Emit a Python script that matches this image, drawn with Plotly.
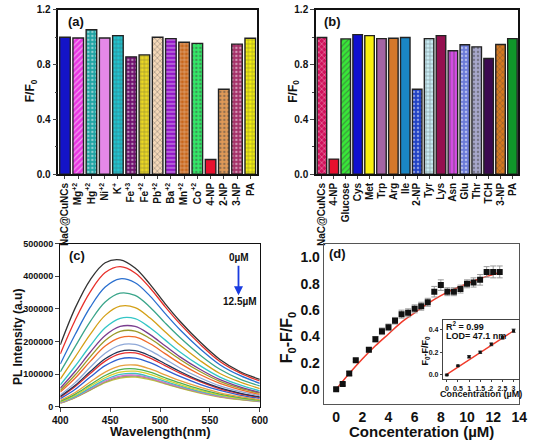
import plotly.graph_objects as go

# ---------------- data ----------------
a_labels = ["NaC@CuNCs", "Mg<sup>+2</sup>", "Hg<sup>+2</sup>", "Ni<sup>+2</sup>", "K<sup>+</sup>",
            "Fe<sup>+3</sup>", "Fe<sup>+2</sup>", "Pb<sup>+2</sup>", "Ba<sup>+2</sup>", "Mn<sup>+2</sup>",
            "Co<sup>+2</sup>", "4-NP", "2-NP", "3-NP", "PA"]
a_values = [1.0, 0.995, 1.055, 0.995, 1.012, 0.857, 0.871, 1.0, 0.99, 0.964, 0.955, 0.107, 0.62, 0.95, 0.993]
a_colors = ["#1414c8", "#e838e0", "#1fa3a3", "#e488e8", "#22c4d0", "#6e0f6e", "#ecd824", "#f4d8b8",
            "#9418c8", "#c8661a", "#34e868", "#e8102e", "#e09a58", "#a43068", "#f4f010"]
a_patterns = ["", "/", ".", "", "+", ".", "+", "x", "-", "+", ".", "", ".", ".", "+"]

b_labels = ["NaC@CuNCs", "4-NP", "Glucose", "Cys", "Met", "Trp", "Arg", "Ile", "2-NP", "Tyr",
            "Lys", "Asn", "Glu", "Thr", "TCH", "3-NP", "PA"]
b_values = [0.998, 0.11, 0.988, 1.019, 1.012, 0.99, 0.993, 0.998, 0.62, 0.99,
            1.012, 0.902, 0.945, 0.93, 0.845, 0.947, 0.99]
b_colors = ["#d0105a", "#e8102e", "#38e838", "#1010d0", "#f8f010", "#a464a4", "#d4782a", "#1a86c4",
            "#2040c4", "#c8ecf4", "#941050", "#d44ce4", "#6a7ad8", "#a8a8cc", "#3c0a50", "#d47820", "#10962a"]
b_patterns = ["x", "", "/", "", "", "", "", "", ".", "+", "", "|", ".", ".", "", "x", ""]

wl = [400, 415, 430, 445, 460, 475, 490, 505, 520, 540, 560, 580, 600]
spectra = [
    [190, 303, 389, 441, 450, 425, 375, 316, 262, 199, 145, 108, 84],
    [162, 266, 352, 411, 429, 410, 364, 307, 254, 192, 139, 104, 79],
    [131, 222, 305, 367, 392, 380, 339, 286, 236, 178, 129, 96, 72],
    [107, 185, 261, 321, 348, 341, 305, 257, 212, 159, 115, 85, 64],
    [85, 153, 222, 280, 308, 304, 272, 230, 189, 142, 102, 76, 56],
    [67, 125, 187, 242, 271, 270, 242, 205, 168, 126, 91, 67, 49],
    [57, 109, 167, 218, 246, 246, 221, 187, 153, 115, 83, 61, 44],
    [50, 98, 153, 203, 231, 232, 209, 177, 145, 108, 78, 57, 42],
    [45, 88, 139, 186, 212, 214, 193, 163, 133, 99, 72, 53, 38],
    [36, 74, 121, 164, 189, 191, 172, 146, 119, 89, 64, 47, 34],
    [32, 66, 108, 147, 170, 172, 156, 132, 108, 80, 58, 42, 30],
    [29, 62, 102, 140, 162, 165, 149, 126, 103, 77, 55, 40, 29],
    [25, 54, 91, 126, 147, 149, 135, 114, 93, 69, 50, 36, 26],
    [20, 44, 76, 106, 125, 128, 116, 98, 80, 60, 43, 31, 22],
    [17, 39, 68, 96, 114, 116, 106, 89, 73, 54, 39, 28, 20],
    [15, 35, 63, 89, 106, 109, 99, 83, 68, 50, 36, 26, 19],
    [14, 32, 58, 83, 99, 102, 92, 78, 64, 47, 34, 25, 18],
    [12, 30, 55, 79, 94, 97, 88, 74, 61, 45, 32, 24, 17],
    [11, 29, 52, 76, 91, 94, 86, 72, 59, 44, 31, 23, 16],
    [11, 28, 51, 74, 88, 91, 83, 70, 57, 42, 30, 22, 16],
]
spectra_colors = ["#333333", "#e8302a", "#2a6fcf", "#3aa58a", "#d4a017", "#34c6c6", "#7a3e8f", "#9a9a2a",
                  "#f06a2a", "#8fa8d8", "#223355", "#e83030", "#3060d0", "#e8a040", "#50b050", "#d8d030",
                  "#40c0c0", "#d070d0", "#a0a060", "#c0c040"]

d_x = [0, 0.5, 1, 1.5, 2.5, 3, 3.5, 4, 4.5, 5, 5.5, 6, 6.5, 7, 7.5, 8, 8.5, 9, 9.5, 10, 10.5, 11, 11.5, 12, 12.5]
d_y = [0.0, 0.04, 0.12, 0.22, 0.30, 0.38, 0.44, 0.47, 0.52, 0.57, 0.58, 0.61, 0.63, 0.66, 0.74, 0.79,
       0.74, 0.74, 0.76, 0.80, 0.81, 0.83, 0.89, 0.89, 0.89]
d_err = [0.01, 0.01, 0.015, 0.01, 0.015, 0.02, 0.025, 0.025, 0.025, 0.03, 0.03, 0.03, 0.03, 0.03, 0.04,
         0.04, 0.03, 0.03, 0.03, 0.03, 0.035, 0.04, 0.04, 0.045, 0.045]
fit_x = [0, 1, 2, 3, 4, 5, 6, 7, 8, 9, 10, 11, 12, 12.5]
fit_y = [0.0, 0.12, 0.23, 0.33, 0.42, 0.51, 0.58, 0.65, 0.71, 0.76, 0.80, 0.84, 0.87, 0.885]

in_x = [0, 0.5, 1, 1.5, 2, 2.5, 3]
in_y = [0.0, 0.08, 0.16, 0.20, 0.27, 0.33, 0.39]
in_err = [0.005, 0.005, 0.01, 0.01, 0.012, 0.015, 0.015]
in_fit_x = [0, 3]
in_fit_y = [0.005, 0.39]

# ---------------- helpers ----------------
W, H = 539, 447
FONT = "Liberation Sans, Arial, sans-serif"


def fx(p):
    return p / W


def fy(p):
    return 1 - p / H


def darker(c, f=0.55):
    c = c.lstrip("#")
    r, g, b = int(c[0:2], 16), int(c[2:4], 16), int(c[4:6], 16)
    return "rgb(%d,%d,%d)" % (r * f, g * f, b * f)


fig = go.Figure()

# panel a
fig.add_trace(go.Bar(
    x=list(range(len(a_labels))), y=a_values, xaxis="x", yaxis="y", showlegend=False,
    marker=dict(color=a_colors, line=dict(color="#222", width=1.4),
                pattern=dict(shape=a_patterns, fgcolor=[darker(c) for c in a_colors], size=4, solidity=0.3)),
))
# panel b
fig.add_trace(go.Bar(
    x=list(range(len(b_labels))), y=b_values, xaxis="x2", yaxis="y2", showlegend=False,
    marker=dict(color=b_colors, line=dict(color="#222", width=1.4),
                pattern=dict(shape=b_patterns, fgcolor=[darker(c) for c in b_colors], size=4, solidity=0.3)),
))
# panel c
for vals, col in zip(spectra[::-1], spectra_colors[::-1]):
    fig.add_trace(go.Scatter(x=wl, y=[v * 1000 for v in vals], mode="lines", xaxis="x3", yaxis="y3",
                             showlegend=False, line=dict(color=col, width=1.3, shape="spline")))
# panel d
fig.add_trace(go.Scatter(x=fit_x, y=fit_y, mode="lines", xaxis="x4", yaxis="y4", showlegend=False,
                         line=dict(color="#f03a2a", width=1.5, shape="spline")))
fig.add_trace(go.Scatter(x=d_x, y=d_y, mode="markers", xaxis="x4", yaxis="y4", showlegend=False,
                         marker=dict(symbol="square", size=6, color="#111"),
                         error_y=dict(type="data", array=d_err, color="#999", thickness=1, width=3)))
# inset
fig.add_trace(go.Scatter(x=in_fit_x, y=in_fit_y, mode="lines", xaxis="x5", yaxis="y5", showlegend=False,
                         line=dict(color="#f03a2a", width=1.3)))
fig.add_trace(go.Scatter(x=in_x, y=in_y, mode="markers", xaxis="x5", yaxis="y5", showlegend=False,
                         marker=dict(symbol="square", size=3, color="#111"),
                         error_y=dict(type="data", array=in_err, color="#555", thickness=1, width=2)))


def tf(size):
    return dict(family=FONT, size=size, color="#111", weight="bold")


common = dict(showgrid=False, zeroline=False, showline=True, mirror=True)

fig.update_layout(
    width=W, height=H, margin=dict(l=0, r=0, t=0, b=0),
    paper_bgcolor="white", plot_bgcolor="white", bargap=0.2,
    xaxis=dict(domain=[fx(52), fx(257)], anchor="y", range=[-0.5, 14.5],
               tickvals=list(range(len(a_labels))), ticktext=a_labels, tickangle=-90,
               ticks="outside", ticklen=3, linecolor="#111", linewidth=1.5, tickfont=tf(10), **common),
    yaxis=dict(domain=[fy(173), fy(5)], anchor="x", range=[0, 1.2],
               tickvals=[0, 0.4, 0.8, 1.2], ticktext=["0.0", "0.4", "0.8", "1.2"],
               ticks="outside", ticklen=4, linecolor="#111", linewidth=1.5, tickfont=tf(10),
               minor=dict(tickvals=[0.2, 0.6, 1.0], ticks="outside", ticklen=2), **common),
    xaxis2=dict(domain=[fx(318), fx(527)], anchor="y2", range=[-0.5, 16.5],
                tickvals=list(range(len(b_labels))), ticktext=b_labels, tickangle=-90,
                ticks="outside", ticklen=3, linecolor="#111", linewidth=1.5, tickfont=tf(10), **common),
    yaxis2=dict(domain=[fy(173), fy(5)], anchor="x2", range=[0, 1.2],
                tickvals=[0, 0.4, 0.8, 1.2], ticktext=["0.0", "0.4", "0.8", "1.2"],
                ticks="outside", ticklen=4, linecolor="#111", linewidth=1.5, tickfont=tf(10),
                minor=dict(tickvals=[0.2, 0.6, 1.0], ticks="outside", ticklen=2), **common),
    xaxis3=dict(domain=[fx(54), fx(260)], anchor="y3", range=[400, 600],
                tickvals=[400, 450, 500, 550, 600], ticks="outside", ticklen=4,
                linecolor="#111", linewidth=1.3, tickfont=tf(10), **common),
    yaxis3=dict(domain=[fy(411), fy(244)], anchor="x3", range=[0, 500000],
                tickvals=[0, 100000, 200000, 300000, 400000, 500000],
                ticktext=["0", "100000", "200000", "300000", "400000", "500000"],
                ticks="outside", ticklen=4, linecolor="#111", linewidth=1.3, tickfont=tf(9), **common),
    xaxis4=dict(domain=[fx(326), fx(528)], anchor="y4", range=[-0.95, 14],
                tickvals=[0, 2, 4, 6, 8, 10, 12, 14], ticks="",
                linecolor="#555", linewidth=1, tickfont=tf(14), **common),
    yaxis4=dict(domain=[fy(408), fy(244)], anchor="x4", range=[-0.11, 1.105],
                tickvals=[0, 0.2, 0.4, 0.6, 0.8, 1.0], ticktext=["0.0", "0.2", "0.4", "0.6", "0.8", "1.0"],
                ticks="", linecolor="#555", linewidth=1, tickfont=tf(14), **common),
    xaxis5=dict(domain=[fx(449), fx(528)], anchor="y5", range=[-0.18, 3.26],
                tickvals=[0, 0.5, 1, 1.5, 2, 2.5, 3], ticktext=["0", "0.5", "1", "1.5", "2", "2.5", "3"],
                ticks="outside", ticklen=2, linecolor="#444", linewidth=1, tickfont=tf(7), **common),
    yaxis5=dict(domain=[fy(383), fy(322)], anchor="x5", range=[-0.04, 0.487],
                tickvals=[0, 0.2, 0.4], ticktext=["0.0", "0.2", "0.4"],
                ticks="outside", ticklen=2, linecolor="#444", linewidth=1, tickfont=tf(7), **common),
)


def ann(x, y, text, size, angle=0, bold=True, color="#111", xanchor="center"):
    fig.add_annotation(x=fx(x), y=fy(y), xref="paper", yref="paper", text=text, showarrow=False,
                       textangle=angle, xanchor=xanchor, yanchor="middle",
                       font=dict(family=FONT, size=size, color=color, weight="bold" if bold else "normal"))


ann(70, 17, "(a)", 13)
ann(335, 17, "(b)", 13)
ann(71, 256, "(c)", 13)
ann(340, 254, "(d)", 13)
ann(24, 88, "F/F<sub>0</sub>", 12, -90)
ann(295, 88, "F/F<sub>0</sub>", 12, -90)
ann(11, 340, "PL Intensity (a.u)", 12, -90)
ann(157, 436, "Wavelength(nm)", 13)
ann(289, 340, "F<sub>0</sub>-F/F<sub>0</sub>", 16, -90)
ann(427, 436, "Concenteration (µM)", 15)
ann(431, 353, "F<sub>0</sub>-F/F<sub>0</sub>", 9, -90)
ann(488, 398, "Concentration (µM)", 9)
ann(450, 328, "R<sup>2</sup> = 0.99", 9, xanchor="left")
ann(450, 339, "LOD= 47.1 nm", 9, xanchor="left")
ann(239, 258, "0µM", 10)
ann(240, 303, "12.5µM", 10)

fig.add_annotation(x=fx(238), y=fy(297), xref="paper", yref="paper", ax=0, ay=-31, text="",
                   showarrow=True, arrowhead=2, arrowsize=1, arrowwidth=1.8, arrowcolor="#1a3ce0")

fig.write_html(
    "out.html",
    config={"displayModeBar": False},
    post_script="document.body.style.margin='0';document.body.style.overflow='hidden';"
                "document.documentElement.style.overflow='hidden';",
)
